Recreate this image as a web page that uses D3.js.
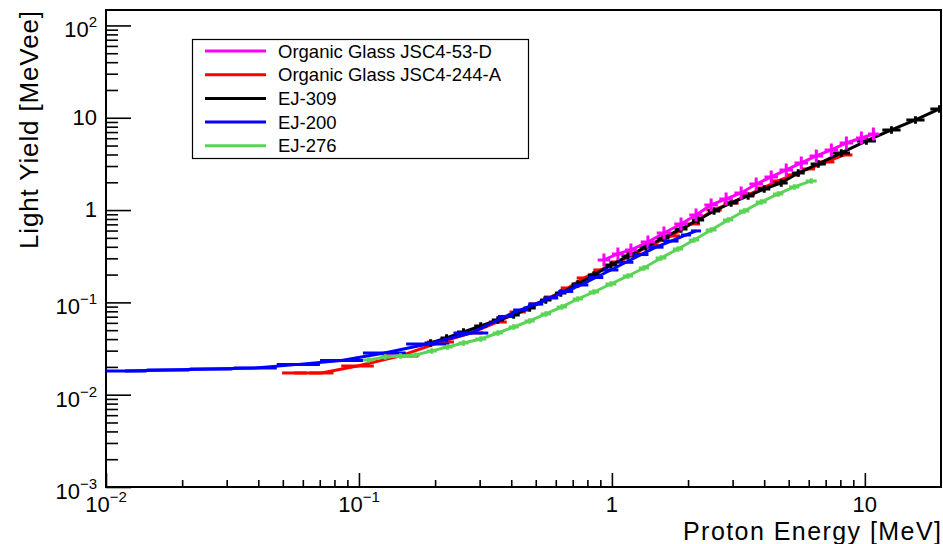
<!DOCTYPE html>
<html>
<head>
<meta charset="utf-8">
<script src="https://cdn.jsdelivr.net/npm/d3@7/dist/d3.min.js"></script>
<style>
body { margin: 0; background: #fff; }
svg text { font-family: "Liberation Sans", Arial, Helvetica, sans-serif; fill: #000; }
</style>
</head>
<body>
<div id="viz"></div>
<script>
// values: proton energy [MeV] and light yield [MeVee]
var glass53dE = [0.930, 1.056, 1.189, 1.388, 1.606, 1.876, 2.151, 2.467, 2.828, 3.243, 3.719, 4.264, 4.889, 5.606, 6.428, 7.371, 8.452, 9.691, 10.81];
var glass53dL = [0.288, 0.335, 0.370, 0.451, 0.565, 0.707, 0.885, 1.136, 1.319, 1.532, 1.918, 2.284, 2.720, 3.238, 3.856, 4.478, 5.333, 6.042, 6.676];

var glass244aE = [0.0555, 0.0710, 0.0987, 0.146, 0.210, 0.276, 0.354, 0.424, 0.500, 0.573, 0.670, 0.775, 0.905, 1.056, 1.222, 1.427, 1.713, 2.056, 2.535, 2.960, 3.456, 3.963, 4.544, 5.211, 5.976, 7.039, 8.295];
var glass244aL = [0.0172, 0.0172, 0.0205, 0.0263, 0.0372, 0.0466, 0.0613, 0.0787, 0.0961, 0.1144, 0.1432, 0.1838, 0.2244, 0.2740, 0.3345, 0.4187, 0.5241, 0.7069, 1.0025, 1.194, 1.458, 1.736, 2.068, 2.401, 2.788, 3.320, 3.954];

var ej309E = [0.192, 0.222, 0.259, 0.303, 0.354, 0.409, 0.473, 0.548, 0.628, 0.733, 0.849, 0.991, 1.157, 1.363, 1.592, 1.876, 2.191, 2.535, 2.960, 3.456, 3.999, 4.670, 5.453, 6.543, 8.070, 10.14, 12.74, 15.85, 19.72];
var ej309L = [0.0363, 0.0412, 0.0478, 0.0555, 0.0645, 0.0730, 0.0870, 0.1062, 0.1264, 0.1582, 0.1981, 0.2542, 0.3183, 0.3983, 0.4986, 0.6242, 0.7815, 0.9779, 1.194, 1.422, 1.693, 1.966, 2.523, 3.159, 4.156, 5.606, 7.376, 9.467, 12.45];

var ej200E = [0.0119, 0.0176, 0.0260, 0.0389, 0.0576, 0.0853, 0.126, 0.187, 0.277, 0.380, 0.436, 0.500, 0.573, 0.657, 0.754, 0.864, 0.991, 1.136, 1.303, 1.494, 1.713, 1.964, 2.151];
var ej200L = [0.0181, 0.0185, 0.0190, 0.0195, 0.0213, 0.0235, 0.0283, 0.0354, 0.0466, 0.0704, 0.0827, 0.0961, 0.1116, 0.1313, 0.1543, 0.1861, 0.2244, 0.2720, 0.3296, 0.3963, 0.4614, 0.5373, 0.594];

var ej276E = [0.109, 0.127, 0.146, 0.167, 0.194, 0.224, 0.259, 0.303, 0.354, 0.409, 0.473, 0.548, 0.634, 0.733, 0.849, 0.991, 1.157, 1.338, 1.564, 1.825, 2.112, 2.467, 2.880, 3.333, 3.892, 4.544, 5.259, 6.140];
var ej276L = [0.0238, 0.0256, 0.0263, 0.0269, 0.0298, 0.0329, 0.0363, 0.0401, 0.0466, 0.0541, 0.0629, 0.0749, 0.0892, 0.1088, 0.1296, 0.1582, 0.1932, 0.2359, 0.3027, 0.3789, 0.4745, 0.6087, 0.7815, 0.9779, 1.224, 1.494, 1.780, 2.067];

var seriesNames = ["Organic Glass JSC4-53-D", "Organic Glass JSC4-244-A", "EJ-309", "EJ-200", "EJ-276"];

var xTickValues = [0.01, 0.1, 1, 10];
var xTickLabels = [["10", "\u22122"], ["10", "\u22121"], ["1", ""], ["10", ""]];
var yTickValues = [0.001, 0.01, 0.1, 1, 10, 100];
var yTickLabels = [["10", "\u22123"], ["10", "\u22122"], ["10", "\u22121"], ["1", ""], ["10", ""], ["10", "2"]];

var w = 943, h = 544;
var fLeft = 106, fRight = 941, fTop = 10, fBottom = 487;

var svg = d3.select("#viz").append("svg")
	.attr("width", w)
	.attr("height", h);

var x = d3.scaleLog().domain([0.01, 20]).range([fLeft, fRight]);
var y = d3.scaleLog().domain([0.001, 147]).range([fBottom, fTop]);

// minor tick values 2..9 in every decade
function minors(lo, hi){
	var out = [];
	for (var d = lo; d < hi; d *= 10) {
		for (var m = 2; m < 10; m++) {
			if (d * m < hi) out.push(d * m);
		}
	}
	return out;
}

function tickAxis(axis, vals, size){
	return axis.tickValues(vals).tickSize(size).tickFormat("").tickSizeOuter(0);
}

svg.append("g").attr("transform", "translate(0," + fBottom + ")")
	.call(tickAxis(d3.axisBottom(x), minors(0.01, 20), -7));
svg.append("g").attr("transform", "translate(0," + fBottom + ")")
	.call(tickAxis(d3.axisBottom(x), xTickValues, -14));
svg.append("g").attr("transform", "translate(" + fLeft + ",0)")
	.call(tickAxis(d3.axisLeft(y), minors(0.001, 147), -12));
svg.append("g").attr("transform", "translate(" + fLeft + ",0)")
	.call(tickAxis(d3.axisLeft(y), yTickValues, -25));
svg.selectAll(".domain").remove();
svg.selectAll(".tick line").style("stroke", "#000").style("stroke-width", 1.6);

// frame
svg.append("rect")
	.attr("x", fLeft).attr("y", fTop)
	.attr("width", fRight - fLeft).attr("height", fBottom - fTop)
	.style("fill", "none").style("stroke", "#000").style("stroke-width", 2);

// tick labels with superscript exponents
function addLabel(g, lab, fs){
	var t = g.append("text").style("font-size", fs + "px");
	t.append("tspan").text(lab[0]);
	if (lab[1] !== "") {
		t.append("tspan").attr("dy", -10).style("font-size", "15px").text(lab[1]);
	}
	return t;
}

xTickValues.forEach(function(v, i){
	var g = svg.append("g").attr("transform", "translate(" + x(v) + "," + 512 + ")");
	addLabel(g, xTickLabels[i], 22).attr("text-anchor", "middle");
});

yTickValues.forEach(function(v, i){
	var lab = yTickLabels[i];
	var off = lab[1] === "" ? 7 : 12;
	var g = svg.append("g").attr("transform", "translate(" + 97 + "," + (y(v) + off) + ")");
	addLabel(g, lab, 22).attr("text-anchor", "end");
});

// axis titles
svg.append("text")
	.attr("x", fRight).attr("y", 540)
	.attr("text-anchor", "end")
	.attr("textLength", 258)
	.style("font-size", "25px")
	.text("Proton Energy [MeV]");

svg.append("text")
	.attr("transform", "translate(38," + (fTop + 1) + ") rotate(-90)")
	.attr("text-anchor", "end")
	.attr("textLength", 238)
	.style("font-size", "26px")
	.text("Light Yield [MeVee]");

// data
svg.append("clipPath").attr("id", "frameclip")
	.append("rect")
	.attr("x", fLeft).attr("y", fTop)
	.attr("width", fRight - fLeft).attr("height", fBottom - fTop);

var series = [
	{ name: seriesNames[1], e: glass244aE, l: glass244aL, colour: "#ff0000", bar: 0.45, yerr: 0 },
	{ name: seriesNames[2], e: ej309E, l: ej309L, colour: "#000000", bar: 0.38, yerr: 0.04 },
	{ name: seriesNames[0], e: glass53dE, l: glass53dL, colour: "#ff00ff", bar: 0.45, yerr: 0.07 },
	{ name: seriesNames[3], e: ej200E, l: ej200L, colour: "#0000ff", bar: 0.5, yerr: 0 },
	{ name: seriesNames[4], e: ej276E, l: ej276L, colour: "#59d454", bar: 0.32, yerr: 0.03 }
];

var plot = svg.append("g").attr("clip-path", "url(#frameclip)");

var line = d3.line()
	.x(function(d){ return x(d[0]); })
	.y(function(d){ return y(d[1]); });

series.forEach(function(s){
	var pts = s.e.map(function(v, i){ return [v, s.l[i]]; });
	var g = plot.append("g");

	g.append("path")
		.datum(pts)
		.attr("d", line)
		.style("fill", "none")
		.style("stroke", s.colour)
		.style("stroke-width", 3);

	// horizontal bars: a share of the log gap to the nearest neighbour
	g.selectAll("path.err")
		.data(pts)
		.enter().append("path")
		.attr("class", "err")
		.attr("d", function(d, i){
			var lg = Math.log10(d[0]);
			var gaps = [];
			if (i > 0) gaps.push(lg - Math.log10(pts[i - 1][0]));
			if (i < pts.length - 1) gaps.push(Math.log10(pts[i + 1][0]) - lg);
			var half = s.bar * d3.min(gaps);
			var x1 = x(Math.pow(10, lg - half)), x2 = x(Math.pow(10, lg + half));
			var p = "M" + x1 + "," + y(d[1]) + "H" + x2;
			if (s.yerr > 0) {
				var f = Math.pow(10, s.yerr);
				p += "M" + x(d[0]) + "," + y(d[1] * f) + "V" + y(d[1] / f);
			}
			return p;
		})
		.style("fill", "none")
		.style("stroke", s.colour)
		.style("stroke-width", 3);
});

// legend
var legend = svg.append("g");
legend.append("rect")
	.attr("x", 192.5).attr("y", 39.5)
	.attr("width", 336).attr("height", 119)
	.style("fill", "#fff").style("stroke", "#000").style("stroke-width", 1.2);

var legendColours = ["#ff00ff", "#ff0000", "#000000", "#0000ff", "#59d454"];
var rows = legend.selectAll("g.row")
	.data(seriesNames)
	.enter().append("g")
	.attr("class", "row")
	.attr("transform", function(d, i){ return "translate(0," + (51 + i * 23.7) + ")"; });

rows.append("line")
	.attr("x1", 205).attr("x2", 266)
	.style("stroke", function(d, i){ return legendColours[i]; })
	.style("stroke-width", 3);

rows.append("text")
	.attr("x", 278).attr("dy", "0.36em")
	.style("font-size", "18.5px")
	.text(function(d){ return d; });
</script>
</body>
</html>
